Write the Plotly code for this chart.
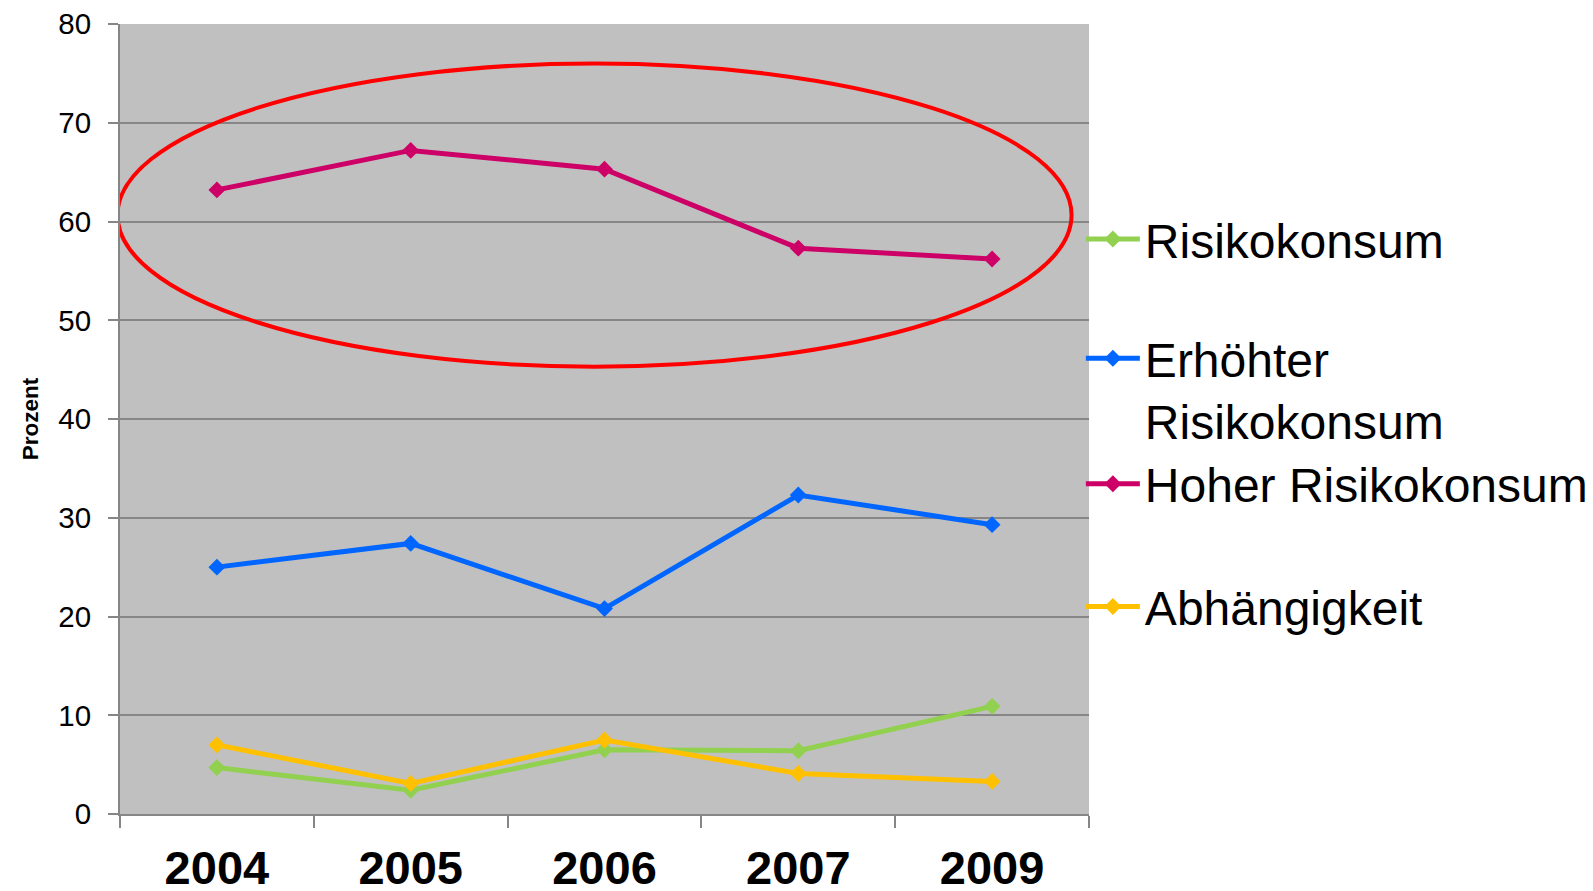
import plotly.graph_objects as go

years = ["2004", "2005", "2006", "2007", "2009"]
risikokonsum = [4.7, 2.4, 6.5, 6.4, 10.9]
erhoehter = [25.0, 27.4, 20.8, 32.3, 29.3]
hoher = [63.2, 67.2, 65.3, 57.3, 56.2]
abhaengigkeit = [7.0, 3.1, 7.5, 4.1, 3.3]
y_ticks = [0, 10, 20, 30, 40, 50, 60, 70, 80]

# target plot area in photographed pixels: x 118..1072, y 23..801
# photo = 7.5 + 0.985 * figure px
S, O = 0.985, 7.5
def fig_px(p):
    return (p - O) / S

L = fig_px(118)
R = fig_px(1072)
T = fig_px(23)
B = fig_px(801)
W = 1605
H = 893

def py(pix):
    return (801 - pix) / 778.0

def px(pix):
    return (pix - 118) / 954.0

series = [
    ("Risikokonsum", risikokonsum, "#92D050", "legend", py(235), "middle"),
    ("Erhöhter<br>Risikokonsum", erhoehter, "#0066FF", "legend2", py(383), "top"),
    ("Hoher Risikokonsum", hoher, "#CC0066", "legend3", py(476), "middle"),
    ("Abhängigkeit", abhaengigkeit, "#FFC000", "legend4", py(597), "middle"),
]

fig = go.Figure()
for name, vals, color, leg, _, _ in series:
    fig.add_trace(go.Scatter(
        x=years, y=vals, name=name, mode="lines+markers",
        line=dict(color=color, width=5),
        marker=dict(symbol="diamond", size=13, color=color),
        legend=leg,
    ))

legend_font = dict(family="Liberation Sans, Arial, sans-serif", size=48, color="black")
legends = {}
for name, vals, color, leg, ypos, va in series:
    legends[leg] = dict(
        x=px(1064), y=ypos, xanchor="left", yanchor="middle",
        font=legend_font, bgcolor="rgba(0,0,0,0)", borderwidth=0,
        valign=va, itemwidth=54,
    )

fig.update_layout(**legends)

# red ellipse highlight
fig.add_shape(type="circle", xref="x", yref="y",
              x0=-0.513, x1=4.41, y0=45.3, y1=76.0,
              line=dict(color="#FF0000", width=4), fillcolor="rgba(0,0,0,0)")

fig.update_layout(
    width=W, height=H,
    margin=dict(l=L, r=W - R, t=T, b=H - B, autoexpand=False),
    paper_bgcolor="white",
    plot_bgcolor="#C0C0C0",
    showlegend=True,
    font=dict(family="Liberation Sans, Arial, sans-serif", color="black"),
    xaxis=dict(
        type="category",
        range=[-0.5, 4.5],
        automargin=False,
        showgrid=False,
        showline=True, linecolor="#868686", linewidth=2,
        ticks="outside", ticklen=12, tickcolor="#868686", tickwidth=2,
        tickson="boundaries",
        tickfont=dict(size=47, family="Liberation Sans, Arial, sans-serif", color="black", weight="bold"),
        ticklabelstandoff=12,
        ticklabeloverflow="allow",
    ),
    yaxis=dict(
        range=[0, 80],
        automargin=False,
        tickvals=y_ticks,
        showgrid=True, gridcolor="#868686", gridwidth=2,
        showline=True, linecolor="#868686", linewidth=2,
        ticks="outside", ticklen=10, tickcolor="#868686", tickwidth=2,
        tickfont=dict(size=29.5, family="Liberation Sans, Arial, sans-serif", color="black"),
        ticklabelstandoff=11,
        ticklabeloverflow="allow",
        zeroline=False,
        title=dict(text="<b>Prozent</b>", font=dict(size=22.5, family="Liberation Sans, Arial, sans-serif", color="black"), standoff=13),
    ),
)

fig.write_html("out.html")
